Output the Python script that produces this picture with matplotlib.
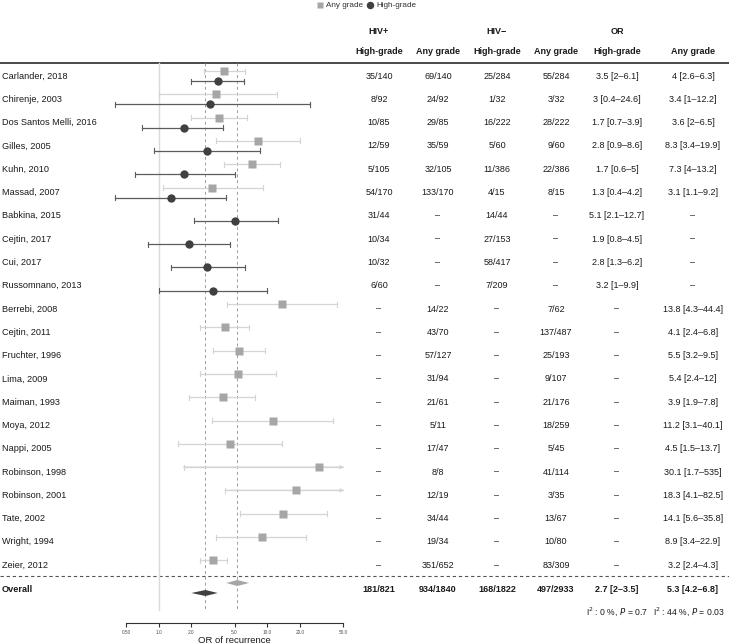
import numpy as np
import matplotlib.pyplot as plt

plt.rcParams['font.family'] = ['Liberation Sans', 'DejaVu Sans']

studies = ["Carlander, 2018", "Chirenje, 2003", "Dos Santos Melli, 2016", "Gilles, 2005",
           "Kuhn, 2010", "Massad, 2007", "Babkina, 2015", "Cejtin, 2017", "Cui, 2017",
           "Russomnano, 2013", "Berrebi, 2008", "Cejtin, 2011", "Fruchter, 1996", "Lima, 2009",
           "Maiman, 1993", "Moya, 2012", "Nappi, 2005", "Robinson, 1998", "Robinson, 2001",
           "Tate, 2002", "Wright, 1994", "Zeier, 2012"]

hivpos_high = ["35/140", "8/92", "10/85", "12/59", "5/105", "54/170", "31/44", "10/34",
               "10/32", "6/60"] + ["–"] * 12
hivpos_any = ["69/140", "24/92", "29/85", "35/59", "32/105", "133/170", "–", "–", "–", "–",
              "14/22", "43/70", "57/127", "31/94", "21/61", "5/11", "17/47", "8/8", "12/19",
              "34/44", "19/34", "351/652"]
hivneg_high = ["25/284", "1/32", "16/222", "5/60", "11/386", "4/15", "14/44", "27/153",
               "58/417", "7/209"] + ["–"] * 12
hivneg_any = ["55/284", "3/32", "28/222", "9/60", "22/386", "8/15", "–", "–", "–", "–",
              "7/62", "137/487", "25/193", "9/107", "21/176", "18/259", "5/45", "41/114",
              "3/35", "13/67", "10/80", "83/309"]

nan = np.nan
or_high = [3.5, 3, 1.7, 2.8, 1.7, 1.3, 5.1, 1.9, 2.8, 3.2] + [nan] * 12
lo_high = [2, 0.4, 0.7, 0.9, 0.6, 0.4, 2.1, 0.8, 1.3, 1] + [nan] * 12
hi_high = [6.1, 24.6, 3.9, 8.6, 5, 4.2, 12.7, 4.5, 6.2, 9.9] + [nan] * 12

or_any = [4, 3.4, 3.6, 8.3, 7.3, 3.1, nan, nan, nan, nan,
          13.8, 4.1, 5.5, 5.4, 3.9, 11.2, 4.5, 30.1, 18.3, 14.1, 8.9, 3.2]
lo_any = [2.6, 1, 2, 3.4, 4, 1.1, nan, nan, nan, nan,
          4.3, 2.4, 3.2, 2.4, 1.9, 3.1, 1.5, 1.7, 4.1, 5.6, 3.4, 2.4]
hi_any = [6.3, 12.2, 6.5, 19.9, 13.2, 9.2, nan, nan, nan, nan,
          44.4, 6.8, 9.5, 12, 7.8, 40.1, 13.7, 535, 82.5, 35.8, 22.9, 4.3]

overall_counts = ["181/821", "934/1840", "168/1822", "497/2933"]
overall_high = (2.7, 2, 3.5)
overall_any = (5.3, 4.2, 6.8)
het_high = r"I$^2$ : 0 %, $P$ = 0.7"
het_any = r"I$^2$ : 44 %, $P$ = 0.03"

ticks = [0.5, 1, 2, 5, 10, 20, 50]
tick_labels = ["0.50", "1.0", "2.0", "5.0", "10.0", "20.0", "50.0"]


def fmt(est, lo, hi):
    if np.isnan(est):
        return "–"
    return f"{est:g} [{lo:g}–{hi:g}]"


W, H = 729, 644
fig = plt.figure(figsize=(W / 100, H / 100), dpi=100)

# background axes in pixel coordinates for table text and rules
bg = fig.add_axes([0, 0, 1, 1])
bg.set_xlim(0, W)
bg.set_ylim(H, 0)
bg.axis('off')

# forest axes: x = 0.5..50 spans pixels 126..343, y in pixels
x0, x1, ybot, ytop = 126, 343, 623, 63
ax = fig.add_axes([x0 / W, 1 - ybot / H, (x1 - x0) / W, (ybot - ytop) / H])
ax.patch.set_alpha(0)
ax.set_xscale('log')
ax.set_xlim(0.5, 50)
ax.set_ylim(ybot, ytop)
for s in ['top', 'left', 'right']:
    ax.spines[s].set_visible(False)
ax.spines['bottom'].set_color('#333333')
ax.spines['bottom'].set_linewidth(0.8)
ax.set_yticks([])
ax.set_xticks(ticks)
ax.set_xticklabels(tick_labels)
ax.minorticks_off()
ax.tick_params(axis='x', length=3, width=0.8, color='#333333', labelsize=3.4,
               labelcolor='#4d4d4d', pad=2)
ax.set_xlabel("OR of recurrence", fontsize=6.8, labelpad=0.5, color='#1a1a1a')

sq_col, ci_any = '#a6a6a6', '#d4d4d4'
dot_col, ci_high = '#404040', '#5c5c5c'

y_first, step = 76, 23.3
rows_y = [y_first + i * step for i in range(len(studies))]
y_overall = 589

# reference lines
ax.plot([1, 1], [ytop, 610], color='#dadada', lw=1.0, clip_on=False)
for v in [overall_high[0], overall_any[0]]:
    ax.plot([v, v], [ytop, 610], color='#9a9a9a', lw=0.7, ls=(0, (3, 3)), clip_on=False)


def draw_ci(y, est, lo, hi, line_col, mk, mk_col, ms):
    top = min(hi, 50)
    ax.plot([lo, top], [y, y], color=line_col, lw=0.9, clip_on=False, zorder=2)
    ax.plot([lo, lo], [y - 2.5, y + 2.5], color=line_col, lw=0.8, clip_on=False, zorder=2)
    if hi <= 50:
        ax.plot([hi, hi], [y - 2.5, y + 2.5], color=line_col, lw=0.8, clip_on=False, zorder=2)
    else:
        ax.annotate('', xy=(51, y), xytext=(lo, y), annotation_clip=False,
                    arrowprops=dict(arrowstyle='->', color=line_col, lw=0.9,
                                    shrinkA=0, shrinkB=0, mutation_scale=5))
    ax.plot(est, y, marker=mk, ms=ms, color=mk_col, mec='none', clip_on=False, zorder=3)


for i, y in enumerate(rows_y):
    if not np.isnan(or_any[i]):
        draw_ci(y - 5, or_any[i], lo_any[i], hi_any[i], ci_any, 's', sq_col, 5.6)
    if not np.isnan(or_high[i]):
        draw_ci(y + 5, or_high[i], lo_high[i], hi_high[i], ci_high, 'o', dot_col, 6.0)


def diamond(y, est, lo, hi, col, h):
    ax.fill([lo, est, hi, est], [y, y - h / 2, y, y + h / 2], color=col, lw=0,
            clip_on=False, zorder=3)


diamond(y_overall - 6, *overall_any, sq_col, 6)
diamond(y_overall + 4, *overall_high, dot_col, 6)

# legend
bg.plot(320, 5, marker='s', ms=5, color=sq_col, mec='none')
bg.text(326, 5, "Any grade", fontsize=5.9, va='center', color='#333333')
bg.plot(370, 5, marker='o', ms=5.4, color=dot_col, mec='none')
bg.text(376, 5, "High-grade", fontsize=5.9, va='center', color='#333333')

# table
cols = [379, 438, 497, 556, 617, 693]
hdr_kw = dict(fontsize=6.5, fontweight='bold', ha='center', va='center', color='#1a1a1a')
for x, t in zip([cols[0], cols[2], cols[4]], ["HIV+", "HIV−", "OR"]):
    bg.text(x, 31, t, **hdr_kw)
for x, t in zip(cols, ["High-grade", "Any grade"] * 3):
    bg.text(x, 51, t, **hdr_kw)

bg.plot([0, W], [63, 63], color='#2b2b2b', lw=1.2)
bg.plot([0, W], [576, 576], color='#555555', lw=0.8, ls=(0, (3, 2.5)))

cell_kw = dict(fontsize=6.5, ha='center', va='center', color='#1a1a1a')
for i, y in enumerate(rows_y):
    bg.text(2, y, studies[i], fontsize=6.6, va='center', color='#1a1a1a')
    vals = [hivpos_high[i], hivpos_any[i], hivneg_high[i], hivneg_any[i],
            fmt(or_high[i], lo_high[i], hi_high[i]), fmt(or_any[i], lo_any[i], hi_any[i])]
    for x, v in zip(cols, vals):
        bg.text(x, y, v, **cell_kw)

bold_kw = dict(cell_kw, fontweight='bold')
bg.text(2, y_overall, "Overall", fontsize=6.6, fontweight='bold', va='center', color='#1a1a1a')
for x, v in zip(cols, overall_counts + [fmt(*overall_high), fmt(*overall_any)]):
    bg.text(x, y_overall, v, **bold_kw)

bg.text(cols[4], 612, het_high, fontsize=6.2, ha='center', va='center', color='#1a1a1a')
bg.text(cols[5] - 4, 612, het_any, fontsize=6.2, ha='center', va='center', color='#1a1a1a')

fig.savefig("out.png", dpi=100)
